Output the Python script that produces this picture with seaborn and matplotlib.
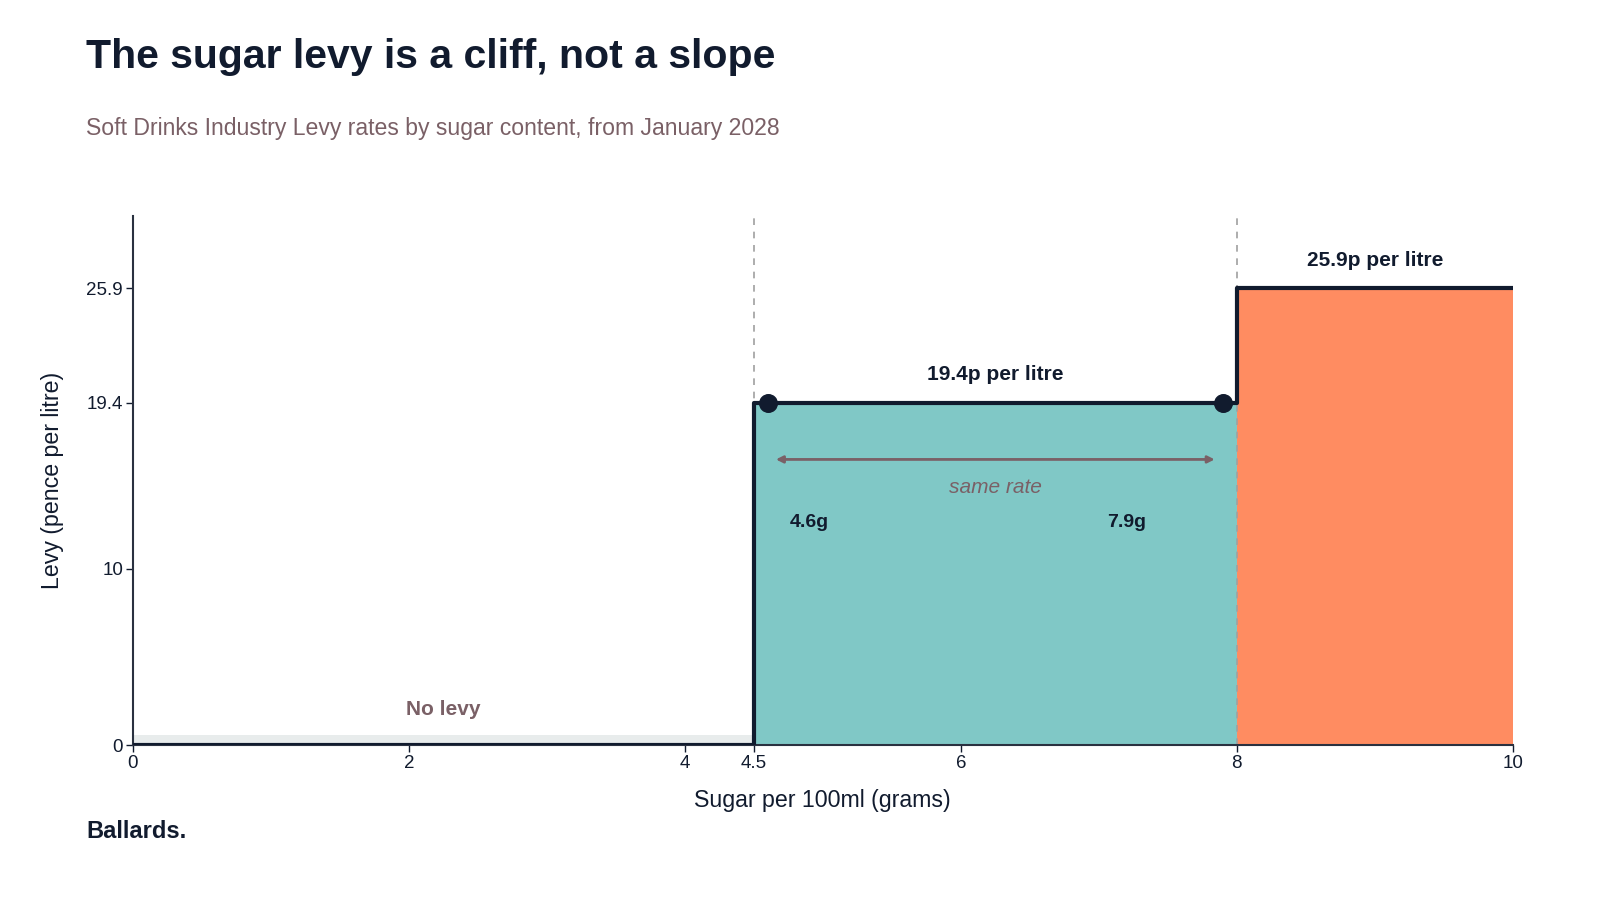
import matplotlib
matplotlib.use("Agg")
import matplotlib.pyplot as plt
import seaborn as sns
import numpy as np

# data
step_x = [0, 4.5, 8, 10]
step_y = [0, 19.4, 25.9, 25.9]
band_edges = [4.5, 8, 10]
band_rates = [19.4, 25.9]
marker_x = [4.6, 7.9]
marker_y = [19.4, 19.4]
x_ticks = [0, 2, 4, 4.5, 6, 8, 10]
x_ticklabels = ["0", "2", "4", "4.5", "6", "8", "10"]
y_ticks = [0, 10, 19.4, 25.9]
y_ticklabels = ["0", "10", "19.4", "25.9"]
thresholds = [4.5, 8]

sns.set_theme(style="white")
plt.rcParams['font.family'] = ['Liberation Sans', 'DejaVu Sans']

NAVY = "#111b2e"
MAUVE = "#7a6066"
TEAL = "#80c8c6"
ORANGE = "#ff8c61"

fig = plt.figure(figsize=(16, 9), dpi=100)
ax = fig.add_axes([0.083, 0.172, 0.8625, 0.588])

# fills
ax.fill_between([0, 4.5], 0, 0.55, color="#e8ecec", lw=0, zorder=1)
ax.fill_between([band_edges[0], band_edges[1]], 0, band_rates[0], color=TEAL, lw=0, zorder=1)
ax.fill_between([band_edges[1], band_edges[2]], 0, band_rates[1], color=ORANGE, lw=0, zorder=1)

# threshold lines
for t in thresholds:
    ax.axvline(t, color="#a0a0a0", lw=1.2, ls=(0, (4, 4)), zorder=2)

sns.lineplot(x=step_x, y=step_y, drawstyle="steps-post", color=NAVY, lw=3,
             ax=ax, zorder=4, estimator=None, sort=False)
sns.scatterplot(x=marker_x, y=marker_y, color=NAVY, s=160, ax=ax, zorder=5, edgecolor=NAVY)

ax.annotate("", xy=(4.66, 16.2), xytext=(7.84, 16.2),
            arrowprops=dict(arrowstyle="<|-|>", color=MAUVE, lw=2, mutation_scale=10,
                            shrinkA=0, shrinkB=0), zorder=6)
ax.text(6.25, 14.6, "same rate", ha="center", va="center", color=MAUVE, fontsize=15, style="italic")
ax.text(4.9, 12.6, "4.6g", ha="center", va="center", color=NAVY, fontsize=14, weight="bold")
ax.text(7.2, 12.6, "7.9g", ha="center", va="center", color=NAVY, fontsize=14, weight="bold")
ax.text(6.25, 21.0, "19.4p per litre", ha="center", va="center", color=NAVY, fontsize=15, weight="bold")
ax.text(9.0, 27.5, "25.9p per litre", ha="center", va="center", color=NAVY, fontsize=15, weight="bold")
ax.text(2.25, 2.05, "No levy", ha="center", va="center", color=MAUVE, fontsize=15, weight="bold")

ax.set_xlim(0, 10)
ax.set_ylim(0, 30)
ax.set_xticks(x_ticks)
ax.set_xticklabels(x_ticklabels)
ax.set_yticks(y_ticks)
ax.set_yticklabels(y_ticklabels)
ax.tick_params(axis="both", labelsize=13.5, colors=NAVY, length=5, width=1, direction="out",
               left=True, bottom=True, pad=2)
for s in ["top", "right"]:
    ax.spines[s].set_visible(False)
for s in ["left", "bottom"]:
    ax.spines[s].set_color("#2a3140")
    ax.spines[s].set_linewidth(1.5)
ax.set_xlabel("Sugar per 100ml (grams)", fontsize=16.7, color=NAVY, labelpad=12)
ax.set_ylabel("Levy (pence per litre)", fontsize=16.7, color=NAVY, labelpad=16)

fig.text(0.054, 0.937, "The sugar levy is a cliff, not a slope", fontsize=29.5, weight="bold",
         color=NAVY, va="center", ha="left")
fig.text(0.054, 0.857, "Soft Drinks Industry Levy rates by sugar content, from January 2028",
         fontsize=16.6, color=MAUVE, va="center", ha="left")
fig.text(0.054, 0.076, "Ballards.", fontsize=17, weight="bold", color=NAVY, va="center", ha="left")

fig.savefig("out.png", dpi=100, facecolor="white")
